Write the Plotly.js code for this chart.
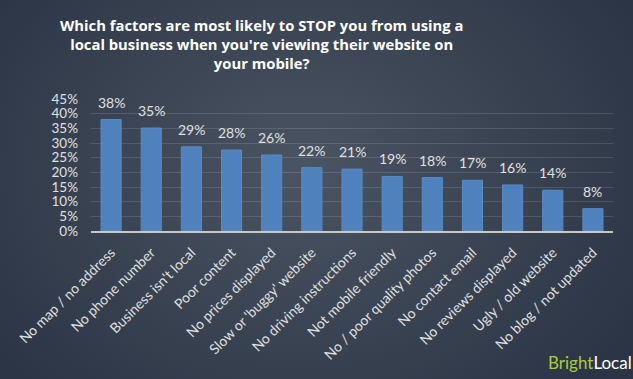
<!DOCTYPE html>
<html><head><meta charset="utf-8">
<script src="https://cdn.plot.ly/plotly-3.0.1.min.js"></script>
<style>
html,body{margin:0;padding:0;}
body{width:633px;height:379px;background:radial-gradient(ellipse 60% 80% at 48% 45%, #4a5463 0%, #3c4655 45%, #2c3545 100%);}
#chart{width:633px;height:379px;}
</style></head>
<body><div id="chart"></div>
<script>
const categories = ["No map / no address","No phone number","Business isn't local","Poor content","No prices displayed","Slow or 'buggy' website","No driving instructions","Not mobile friendly","No / poor quality photos","No contact email","No reviews displayed","Ugly / old website","No blog / not updated"];
const values = [38.0, 35.1, 28.7, 27.6, 25.9, 21.6, 21.1, 18.6, 18.2, 17.3, 15.7, 13.9, 7.6];
const yTicks = [0,5,10,15,20,25,30,35,40,45];
const titleText = "Which factors are most likely to STOP you from using a<br>local business when you're viewing their website on<br>your mobile?";

const font = "Lato, 'Open Sans', sans-serif";
const labelAnns = categories.map((c,i)=>({
  x:c, y:values[i], xref:'x', yref:'y', yanchor:'bottom', yshift:7,
  text: Math.round(values[i])+'%', showarrow:false,
  font:{family:font, size:14, color:'#e0e0e0'}
}));
Plotly.newPlot('chart', [{
  type:'bar', x:categories, y:values,
  marker:{color:'#4f81bd', line:{color:'#5a8cc8', width:1}},
  hoverinfo:'none'
}], {
  width:633, height:379,
  paper_bgcolor:'rgba(0,0,0,0)', plot_bgcolor:'rgba(0,0,0,0)',
  margin:{l:91, r:20, t:99, b:148},
  bargap:0.5,
  showlegend:false,
  xaxis:{tickangle:-45, tickfont:{family:font, size:14, color:'#e0e0e0'}, ticklabelstandoff:6,
    showline:true, linecolor:'#c8c8c8', linewidth:2, ticks:'', showgrid:false, automargin:false},
  yaxis:{range:[0,45], tickvals:yTicks, ticktext:yTicks.map(v=>v+'%'),
    tickfont:{family:font, size:13.5, color:'#e0e0e0'}, ticklabelstandoff:12,
    showgrid:true, gridcolor:'rgba(255,255,255,0.13)', gridwidth:1, zeroline:false,
    showline:false, ticks:'', automargin:false},
  annotations:[{xref:'paper', yref:'paper', x:(261-91)/522, y:1+(99-13)/132, xanchor:'center', yanchor:'top',
    text:titleText, showarrow:false, align:'center',
    font:{family:"'Open Sans', sans-serif", size:14.8, color:'#ffffff', weight:'bold'}},
    {xref:'paper', yref:'paper', x:(634-91)/522, y:-(375-231)/132, xanchor:'right', yanchor:'bottom',
    text:"<span style='color:#a8cc3c'>Bright</span><span style='color:#ffffff'>Local</span>",
    showarrow:false, font:{family:font, size:17}}].concat(labelAnns)
}, {staticPlot:true});
</script></body></html>
